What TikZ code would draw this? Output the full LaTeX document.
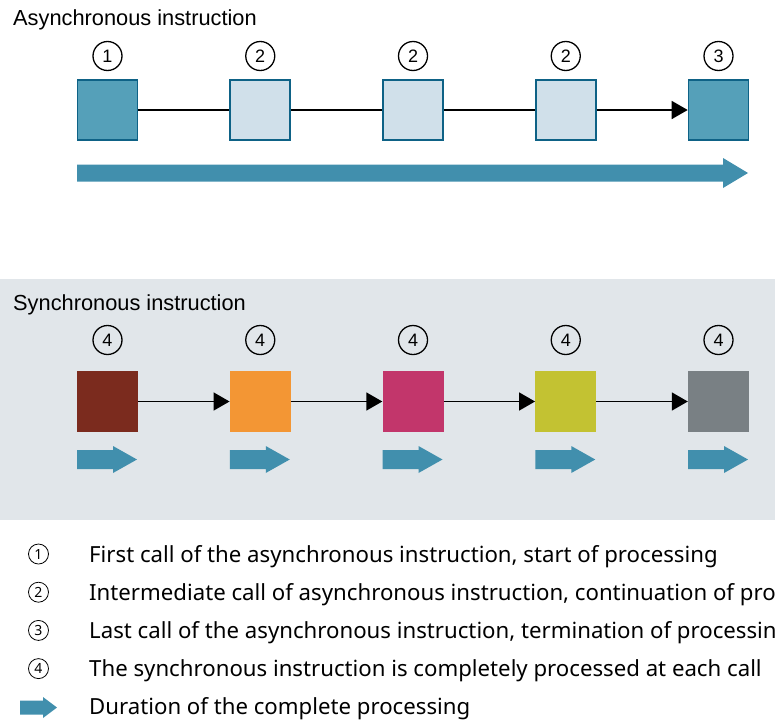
\documentclass[tikz,border=0pt]{standalone}
\usepackage{fontspec}
\setmainfont{Liberation Sans}
\newfontfamily\legendfont{Noto Sans}
\usetikzlibrary{arrows.meta}
\definecolor{asyncdark}{HTML}{55A0B9}
\definecolor{asynclight}{HTML}{D0E0EA}
\definecolor{asyncedge}{HTML}{0E6286}
\definecolor{durationblue}{HTML}{418FAD}
\definecolor{panelgray}{HTML}{E1E6EA}
\definecolor{callbrown}{HTML}{7B2B1E}
\definecolor{callorange}{HTML}{F39634}
\definecolor{callmagenta}{HTML}{C2366B}
\definecolor{callolive}{HTML}{C3C232}
\definecolor{callgray}{HTML}{798084}

\begin{document}
\begin{tikzpicture}[x=1pt, y=-1pt,
    callbox/.style={minimum size=60pt, inner sep=0pt},
    asyncend/.style={callbox, draw=asyncedge, line width=1.6pt, fill=asyncdark},
    asyncmid/.style={callbox, draw=asyncedge, line width=1.6pt, fill=asynclight},
    syncbox/.style={callbox, minimum size=61pt, fill=#1},
    callmark/.style={circle, draw, line width=1.3pt, minimum size=29pt, inner sep=0pt, font=\fontsize{18}{18}\selectfont},
    title/.style={anchor=base west, inner sep=0pt, font=\fontsize{21.8}{24}\selectfont},
    link/.style={line width=1.6pt},
    flow/.style={link, -{Triangle[length=16pt, width=18pt]}},
    duration/.style={fill=durationblue},
    legendtext/.style={anchor=base west, inner sep=0pt, font=\legendfont\fontsize{22.2}{26}\selectfont},
    legendnum/.style={circle, draw, line width=0.8pt, minimum size=20pt, inner sep=0pt, font=\legendfont\fontsize{14}{14}\selectfont}
]
\useasboundingbox (0,0) rectangle (775,723);

% asynchronous instruction
\node[title] (asynctitle) at (13,25) {Asynchronous instruction};
\node[asyncend] (a1) at (107.5,110) {};
\node[asyncmid] (a2) at (260.25,110) {};
\node[asyncmid] (a3) at (413,110) {};
\node[asyncmid] (a4) at (565.75,110) {};
\node[asyncend] (a5) at (718.5,110) {};
\foreach \i/\n in {1/1,2/2,3/2,4/2,5/3}
    \node[callmark] (am\i) at ([yshift=54pt]a\i.center) {\n};
\draw[link] (a1) -- (a2);
\draw[link] (a2) -- (a3);
\draw[link] (a3) -- (a4);
\draw[flow] (a4) -- (a5);
\fill[duration] (77,164.5) -- (723,164.5) -- (723,158) -- (748,173) -- (723,188) -- (723,181.5) -- (77,181.5) -- cycle;

% synchronous instruction
\fill[panelgray] (0,279) rectangle (775,520);
\node[title] (synctitle) at (13,310) {Synchronous instruction};
\node[syncbox=callbrown] (s1) at (107.5,401.5) {};
\node[syncbox=callorange] (s2) at (260.25,401.5) {};
\node[syncbox=callmagenta] (s3) at (413,401.5) {};
\node[syncbox=callolive] (s4) at (565.75,401.5) {};
\node[syncbox=callgray] (s5) at (718.5,401.5) {};
\foreach \i in {1,...,5} {
    \node[callmark] (sm\i) at ([yshift=61.5pt]s\i.center) {4};
    \fill[duration] ([xshift=-30.5pt,yshift=-48.5pt]s\i.center) -- ++(36,0) -- ++(0,-4) -- ++(24,13.5) -- ++(-24,13.5) -- ++(0,-4) -- ++(-36,0) -- cycle;
}
\foreach \i/\j in {1/2,2/3,3/4,4/5}
    \draw[flow] (s\i) -- (s\j);

% legend
\foreach \n/\txt [count=\i] in {
    1/{First call of the asynchronous instruction, start of processing},
    2/{Intermediate call of asynchronous instruction, continuation of processing},
    3/{Last call of the asynchronous instruction, termination of processing},
    4/{The synchronous instruction is completely processed at each call}} {
    \node[legendnum] (k\i) at (38.5,{554+38.2*(\i-1)}) {\n};
    \node[legendtext] (t\i) at (89,{562+38.2*(\i-1)}) {\txt};
}
\fill[duration] (20,700.5) -- (43,700.5) -- (43,697) -- (57,707.5) -- (43,718) -- (43,714.5) -- (20,714.5) -- cycle;
\node[legendtext] (t5) at (89,714.8) {Duration of the complete processing};
\end{tikzpicture}
\end{document}
